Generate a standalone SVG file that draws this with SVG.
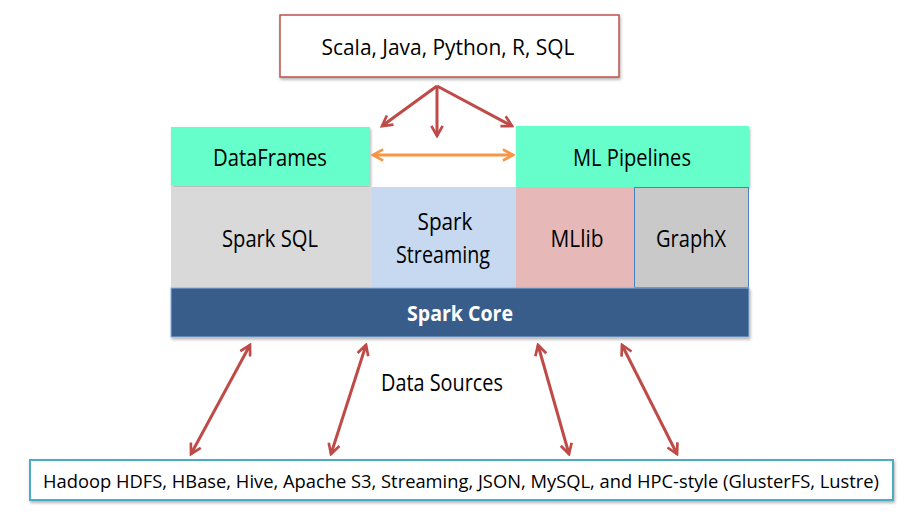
<svg xmlns="http://www.w3.org/2000/svg" width="904" height="520" viewBox="0 0 904 520">
<defs>
<marker id="hr" viewBox="0 0 12 12" refX="10" refY="6" markerWidth="4.5" markerHeight="4.5" orient="auto-start-reverse" markerUnits="strokeWidth">
<path d="M1,1 L10,6 L1,11" fill="none" stroke="#be4b48" stroke-width="2.4" stroke-linejoin="miter"/>
</marker>
<marker id="ho" viewBox="0 0 12 12" refX="10" refY="6" markerWidth="4.5" markerHeight="4.5" orient="auto-start-reverse" markerUnits="strokeWidth">
<path d="M1,1 L10,6 L1,11" fill="none" stroke="#f79646" stroke-width="2.4"/>
</marker>
<filter id="sh" x="-5%" y="-10%" width="110%" height="130%">
<feDropShadow dx="1" dy="2" stdDeviation="1.5" flood-color="#000" flood-opacity="0.3"/>
</filter>
</defs>
<style>
text{font-family:"Open Sans","Noto Sans","Liberation Sans",sans-serif;fill:#000;text-anchor:middle}
.lbl{font-size:24px}
.small{font-size:21px}
.red{stroke:#be4b48;stroke-width:3;fill:none;marker-end:url(#hr)}
.dbl{stroke:#be4b48;stroke-width:3;fill:none;marker-start:url(#hr);marker-end:url(#hr)}
</style>
<rect width="904" height="520" fill="#fff"/>

<g id="languages">
<rect x="280" y="15" width="339" height="62" fill="#fff" stroke="#c0504d" stroke-width="1.5" filter="url(#sh)"/>
<text class="small" x="448" y="55" textLength="253" lengthAdjust="spacingAndGlyphs">Scala, Java, Python, R, SQL</text>
</g>

<g id="dataframes">
<rect x="171" y="127" width="199" height="59" fill="#66ffcc" filter="url(#sh)"/>
<text class="lbl" x="270" y="166" textLength="114" lengthAdjust="spacingAndGlyphs">DataFrames</text>
</g>

<g id="ml-pipelines">
<rect x="516" y="126" width="233" height="61" fill="#66ffcc" filter="url(#sh)"/>
<text class="lbl" x="632" y="166" textLength="118" lengthAdjust="spacingAndGlyphs">ML Pipelines</text>
</g>

<g id="spark-sql">
<rect x="171" y="187" width="201" height="101" fill="#d9d9d9"/>
<text class="lbl" x="270" y="247" textLength="96" lengthAdjust="spacingAndGlyphs">Spark SQL</text>
</g>

<g id="spark-streaming">
<rect x="372" y="187" width="144" height="101" fill="#c6d9f1"/>
<text class="lbl" x="445" y="230" textLength="55" lengthAdjust="spacingAndGlyphs">Spark</text>
<text class="lbl" x="443" y="263" textLength="94" lengthAdjust="spacingAndGlyphs">Streaming</text>
</g>

<g id="mllib">
<rect x="516" y="187" width="118" height="101" fill="#e6b9b8"/>
<text class="lbl" x="577" y="247" textLength="53" lengthAdjust="spacingAndGlyphs">MLlib</text>
</g>

<g id="graphx">
<rect x="634.5" y="187.5" width="114" height="100" fill="#c9c9c9" stroke="#4f81bd" stroke-width="1"/>
<text class="lbl" x="691" y="247" textLength="70" lengthAdjust="spacingAndGlyphs">GraphX</text>
</g>

<g id="spark-core">
<rect x="171" y="288" width="578" height="49" fill="#385d8a" stroke="#8eb4e3" stroke-width="1" filter="url(#sh)"/>
<text x="460" y="321" style="font-size:22px;font-weight:bold;fill:#fff" textLength="106" lengthAdjust="spacingAndGlyphs">Spark Core</text>
</g>

<g id="data-sources-label">
<text class="lbl" x="442" y="391" textLength="122" lengthAdjust="spacingAndGlyphs">Data Sources</text>
</g>

<g id="data-sources">
<rect x="30" y="460" width="863" height="40" fill="#fff" stroke="#4bacc6" stroke-width="2" filter="url(#sh)"/>
<text x="461" y="488" style="font-size:18px" textLength="836" lengthAdjust="spacingAndGlyphs">Hadoop HDFS, HBase, Hive, Apache S3, Streaming, JSON, MySQL, and HPC-style (GlusterFS, Lustre)</text>
</g>

<g id="connectors">
<line class="red" x1="437" y1="86" x2="382" y2="126"/>
<line class="red" x1="437" y1="86" x2="437" y2="136"/>
<line class="red" x1="437" y1="86" x2="512" y2="126"/>
<line x1="373" y1="155" x2="513" y2="155" stroke="#f79646" stroke-width="3" marker-start="url(#ho)" marker-end="url(#ho)"/>
<line class="dbl" x1="250" y1="345" x2="191" y2="454"/>
<line class="dbl" x1="366" y1="345" x2="331" y2="454"/>
<line class="dbl" x1="538" y1="345" x2="569" y2="454"/>
<line class="dbl" x1="622" y1="345" x2="677" y2="454"/>
</g>
</svg>
